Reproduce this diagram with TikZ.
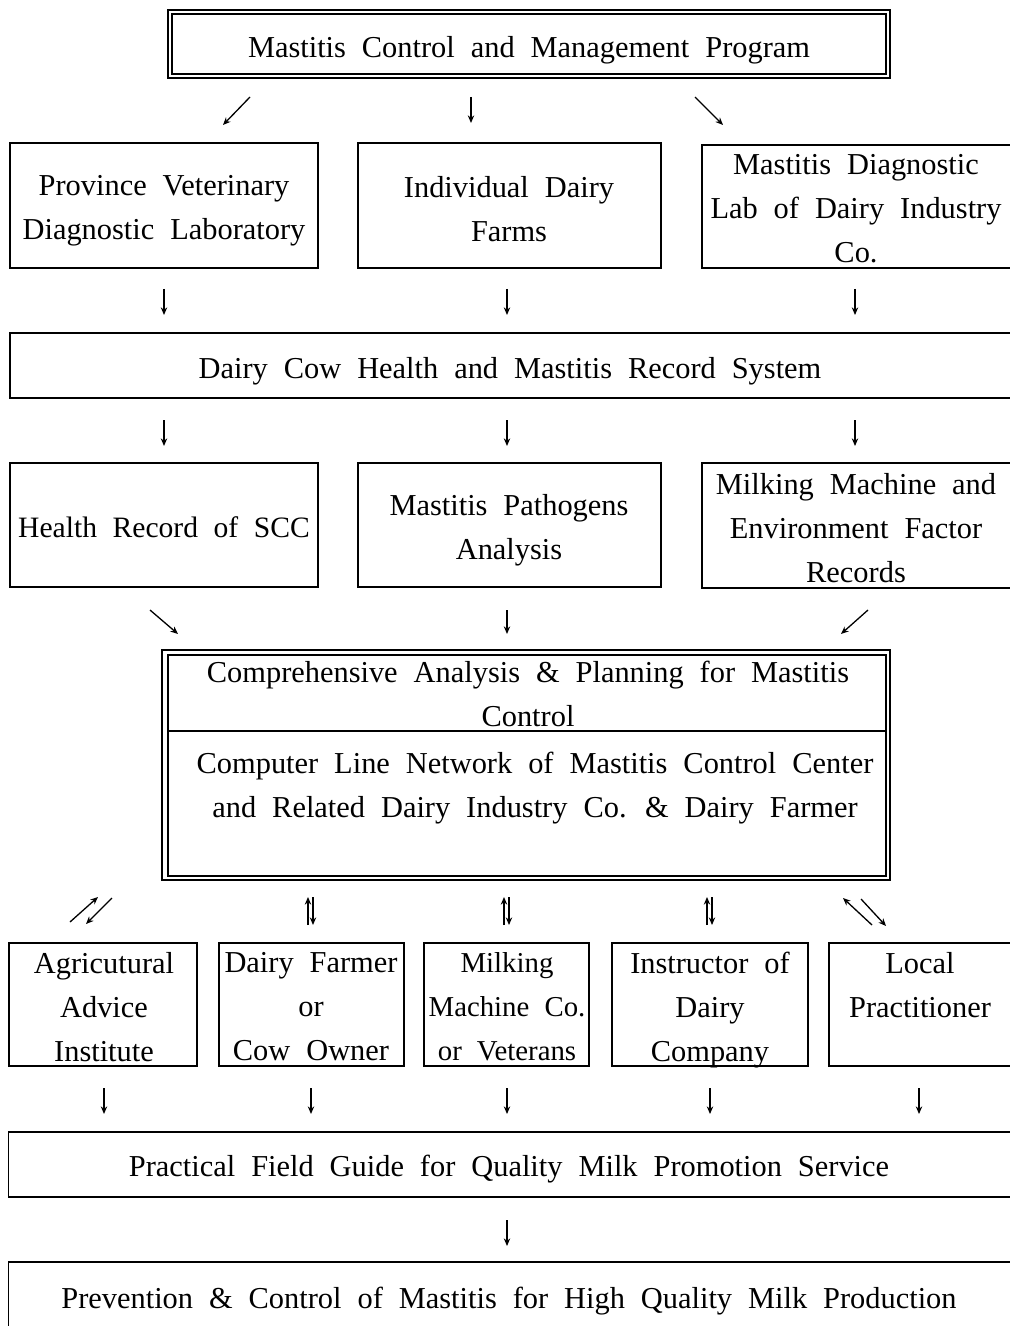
\documentclass[tikz,border=0pt]{standalone}
\usepackage{fontspec}
\setmainfont{Liberation Serif}[WordSpace=2.1]
\usetikzlibrary{arrows.meta}
\begin{document}
\begin{tikzpicture}[x=0.5pt,y=-0.5pt,
  box/.style={draw, line width=0.8pt, inner sep=0pt},
  txt/.style={align=center, font=\fontsize{15.2}{22}\selectfont, inner sep=0pt, yshift=-1.75pt},
  arr/.style={line width=0.65pt, -{Stealth[length=3.8pt,width=3.2pt]}}]
\useasboundingbox (0,0) rectangle (1010,1326);
\clip (0,0) rectangle (1010,1326);
\fill[white] (0,0) rectangle (1010,1326);

% ---- program header (double frame)
\node[box, minimum width=361pt, minimum height=34pt] (prog) at (529,44) {};
\node[box, minimum width=357pt, minimum height=30pt] (progin) at (529,44) {};
\node[txt] (progt) at (529,47) {Mastitis Control and Management Program};

% ---- data sources
\node[box, minimum width=154pt, minimum height=62.5pt] (pvdl) at (164,205.5) {};
\node[txt] (pvdlt) at (164,207.5) {Province Veterinary\\Diagnostic Laboratory};
\node[box, minimum width=151.5pt, minimum height=62.5pt] (idf) at (509.5,205.5) {};
\node[txt] (idft) at (509,206) {Individual Dairy\\Farms};
\node[box, minimum width=160pt, minimum height=61.5pt] (mdl) at (862,206.5) {};
\node[txt] (mdlt) at (856,205) {Mastitis Diagnostic\\Lab of Dairy Industry\\Co.};

% ---- record system
\node[box, minimum width=504pt, minimum height=32.5pt] (rec) at (514,365.5) {};
\node[txt] (rect) at (510,368) {Dairy Cow Health and Mastitis Record System};

% ---- record contents
\node[box, minimum width=154pt, minimum height=62pt] (scc) at (164,525) {};
\node[txt, font=\fontsize{14.8}{22}\selectfont] (scct) at (164,524) {Health Record of SCC};
\node[box, minimum width=151.5pt, minimum height=62pt] (path) at (509.5,525) {};
\node[txt] (patht) at (509,527) {Mastitis Pathogens\\Analysis};
\node[box, minimum width=160pt, minimum height=62.5pt] (mach) at (862,525.5) {};
\node[txt] (macht) at (856,525) {Milking Machine and\\Environment Factor\\Records};

% ---- analysis centre (double frame)
\node[box, minimum width=364pt, minimum height=115pt] (comp) at (526,765) {};
\node[box, minimum width=359pt, minimum height=110.5pt] (compin) at (527,765.5) {};
\draw[line width=0.8pt] (compin.west |- 0,731) coordinate (divl) -- (compin.east |- 0,731) coordinate (divr);
\node[txt] (compa) at (528,690) {Comprehensive Analysis \& Planning for Mastitis\\Control};
\node[txt] (compb) at (535,785) {Computer Line Network of Mastitis Control Center\\and Related Dairy Industry Co. \& Dairy Farmer};

% ---- advisory bodies
\node[box, minimum width=94pt, minimum height=61.5pt] (agri) at (103,1004.5) {};
\node[txt] (agrit) at (104,1003.5) {Agricutural\\Advice\\Institute};
\node[box, minimum width=92.5pt, minimum height=61.5pt] (farm) at (311.5,1004.5) {};
\node[txt] (farmt) at (311,1003.5) {Dairy Farmer\\or\\Cow Owner};
\node[box, minimum width=82.5pt, minimum height=61.5pt] (milk) at (506.5,1004.5) {};
\node[txt, font=\fontsize{14.4}{22}\selectfont] (milkt) at (507,1003.5) {Milking\\Machine Co.\\or Veterans};
\node[box, minimum width=98pt, minimum height=61.5pt] (inst) at (710,1004.5) {};
\node[txt] (instt) at (710,1007) {Instructor of\\Dairy\\Company};
\node[box, minimum width=92pt, minimum height=61.5pt] (prac) at (921,1004.5) {};
\node[txt] (pract) at (920,1003.5) {Local\\Practitioner\\\mbox{}};

% ---- field guide and goal
\node[box, minimum width=503pt, minimum height=32.5pt] (guide) at (511.5,1164.5) {};
\node[txt] (guidet) at (509,1166) {Practical Field Guide for Quality Milk Promotion Service};
\node[box, minimum width=503pt, minimum height=40pt] (goal) at (511.5,1302) {};
\node[txt] (goalt) at (509,1298) {Prevention \& Control of Mastitis for High Quality Milk Production};

% ---- arrow end points
\coordinate (t1s) at (250,97);  \coordinate (t1e) at (223,125);
\coordinate (t2s) at (471,97);  \coordinate (t2e) at (471,123);
\coordinate (t3s) at (695,97);  \coordinate (t3e) at (723,125);
\coordinate (r1s) at (164,289); \coordinate (r1e) at (164,315);
\coordinate (r2s) at (507,289); \coordinate (r2e) at (507,315);
\coordinate (r3s) at (855,289); \coordinate (r3e) at (855,315);
\coordinate (s1s) at (164,420); \coordinate (s1e) at (164,446);
\coordinate (s2s) at (507,420); \coordinate (s2e) at (507,446);
\coordinate (s3s) at (855,420); \coordinate (s3e) at (855,446);
\coordinate (c1s) at (150,610); \coordinate (c1e) at (178,634);
\coordinate (c2s) at (507,610); \coordinate (c2e) at (507,634);
\coordinate (c3s) at (868,610); \coordinate (c3e) at (841,634);
% two-way links
\coordinate (d1us) at (70,922);  \coordinate (d1ue) at (98,897);
\coordinate (d1ds) at (112,898); \coordinate (d1de) at (86,924);
\coordinate (d2us) at (308,925); \coordinate (d2ue) at (308,897);
\coordinate (d2ds) at (313,897); \coordinate (d2de) at (313,925);
\coordinate (d3us) at (504,925); \coordinate (d3ue) at (504,897);
\coordinate (d3ds) at (509,897); \coordinate (d3de) at (509,925);
\coordinate (d4us) at (707,925); \coordinate (d4ue) at (707,897);
\coordinate (d4ds) at (712,897); \coordinate (d4de) at (712,925);
\coordinate (d5us) at (872,925); \coordinate (d5ue) at (843,898);
\coordinate (d5ds) at (861,899); \coordinate (d5de) at (886,926);
% into the field guide
\coordinate (b1s) at (104,1088); \coordinate (b1e) at (104,1114);
\coordinate (b2s) at (311,1088); \coordinate (b2e) at (311,1114);
\coordinate (b3s) at (507,1088); \coordinate (b3e) at (507,1114);
\coordinate (b4s) at (710,1088); \coordinate (b4e) at (710,1114);
\coordinate (b5s) at (919,1088); \coordinate (b5e) at (919,1114);
\coordinate (gs) at (507,1220);  \coordinate (ge) at (507,1246);

\foreach \a in {t1,t2,t3,r1,r2,r3,s1,s2,s3,c1,c2,c3,
                d1u,d1d,d2u,d2d,d3u,d3d,d4u,d4d,d5u,d5d,
                b1,b2,b3,b4,b5,g}
  \draw[arr] (\a s) -- (\a e);
\end{tikzpicture}
\end{document}
